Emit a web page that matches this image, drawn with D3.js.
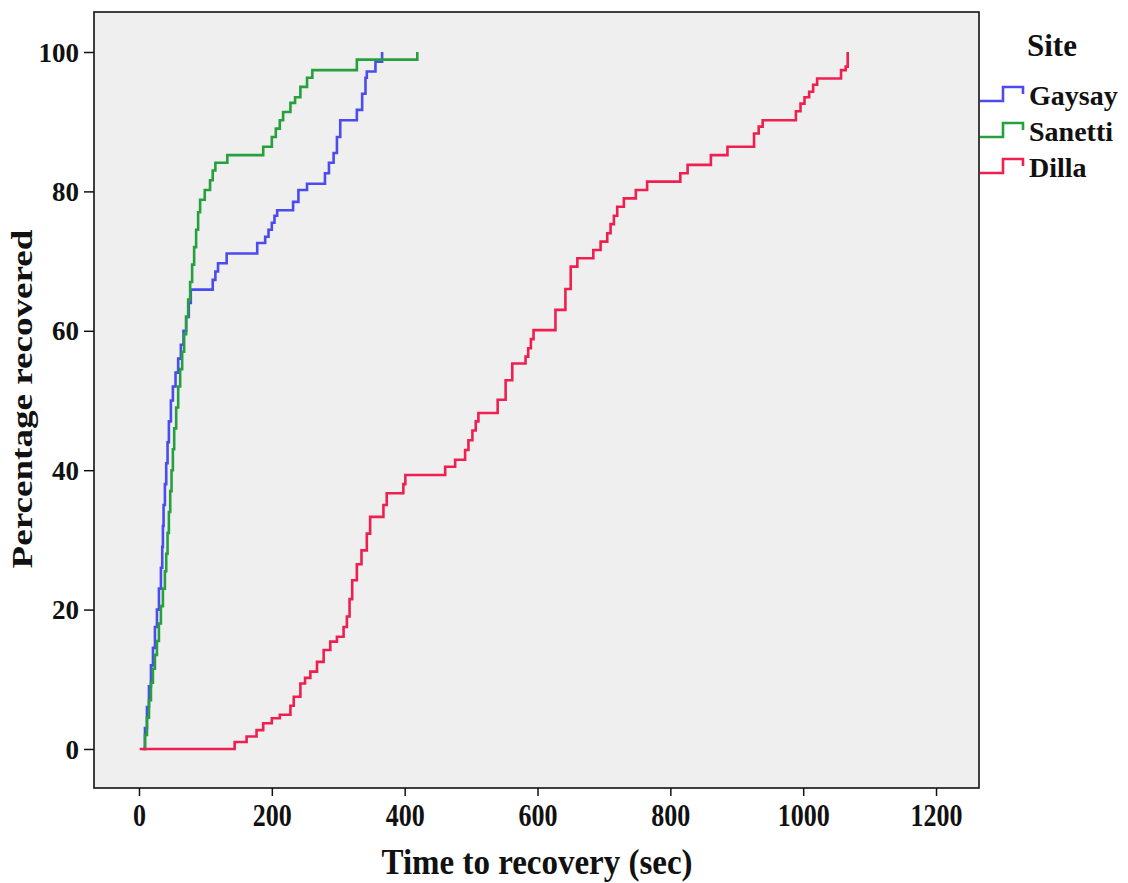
<!DOCTYPE html>
<html>
<head>
<meta charset="utf-8">
<script src="https://cdn.jsdelivr.net/npm/d3@7"></script>
<style>
  html, body { margin: 0; padding: 0; background: #ffffff; }
  svg { display: block; }
  text { font-family: "Liberation Serif", "Times New Roman", serif; font-weight: bold; fill: #111; }
</style>
</head>
<body>
<svg id="chart" width="1128" height="883"></svg>
<script>
// ---- data (time in sec, cumulative percentage recovered) ----
const sites = ["Gaysay", "Sanetti", "Dilla"];
const siteColors = ["#4b4bf0", "#25a03c", "#ef1f4f"];
const xTicks = [0, 200, 400, 600, 800, 1000, 1200];
const yTicks = [0, 20, 40, 60, 80, 100];

const gaysay = [
  [6,0],[9,3],[12,6],[15,9],[18,12],[21,14.5],[24,17.5],[27,20],[30,23],[33,26],
  [35,29],[36,32],[37,35],[39,38],[41,41],[43,44],[45,47],[48,50],[51,52],[55,54],
  [59,56],[63,58],[67,60],[71,62],[75,64],[78,65.9],[111,67.3],[115,68.5],[119,69.7],
  [132,71.1],[178,72.6],[190,73.5],[195,74.5],[200,75.5],[204,76.5],[208,77.3],
  [232,78.5],[240,80.2],[253,81.1],[280,82.6],[286,84.1],[293,85.5],[298,87.8],
  [303,90.2],[328,91.7],[336,94],[341,96.3],[343,97.2],[356,98.6],[366,100]
];
const sanetti = [
  [6,0],[9,2],[12,4.5],[15,7],[18,9.5],[21,11.5],[24,13.5],[27,15.5],[30,18],[33,20.5],
  [36,23],[39,25.5],[41,28],[43,31],[45,34],[47,37],[49,40],[51,43],[53,46],[56,49],
  [59,52],[62,54.5],[65,57],[68,59.5],[71,62],[74,64.5],[77,67],[80,69.5],[83,72],
  [86,74.5],[89,77],[92,78.8],[99,80.2],[107,81.6],[111,83],[115,84.1],[133,85.2],
  [187,86.4],[200,87.8],[206,89],[212,90.2],[217,91.4],[228,92.7],[235,93.5],
  [243,95],[253,96.3],[261,97.4],[328,98.9],[419,100]
];
const dilla = [
  [1,0],[144,1],[162,1.8],[177,2.7],[187,3.7],[200,4.4],[212,4.9],[228,6.2],[233,7.5],
  [243,9.4],[250,10.2],[258,11.1],[268,12.5],[278,14.2],[288,15.4],[298,16.1],
  [308,17.5],[313,19],[317,21.5],[321,24.2],[328,26.5],[335,28.5],[343,30.9],
  [348,33.3],[368,35],[373,36.7],[398,38],[401,39.3],[461,40.5],[476,41.5],[491,42.9],
  [496,44.3],[502,45.7],[507,47],[511,48.2],[540,50.1],[552,52.9],[562,55.3],
  [582,56.3],[586,57.5],[590,58.8],[594,60.1],[627,63],[642,66],[650,69.2],[660,70.4],
  [684,71.6],[695,72.8],[705,74],[710,75.3],[715,76.5],[720,77.8],[730,79],[748,80.2],
  [765,81.4],[815,82.6],[826,83.8],[861,85.2],[886,86.4],[926,88.3],[933,89.3],
  [939,90.2],[989,91.5],[996,92.6],[1002,93.5],[1009,94.3],[1015,95.3],[1021,96.2],
  [1057,97.4],[1064,97.9],[1067,100]
];
const seriesData = [gaysay, sanetti, dilla];

// ---- layout ----
const svg = d3.select("#chart");
const plot = { left: 94, right: 979, top: 12, bottom: 788 };

const x = d3.scaleLinear().domain([-67.75, 1264.7]).range([plot.left, plot.right]);
const y = d3.scaleLinear().domain([-5.6, 105.74]).range([plot.bottom, plot.top]);

svg.append("rect").attr("width", 1128).attr("height", 883).attr("fill", "#ffffff");

// panel
svg.append("rect")
  .attr("x", plot.left).attr("y", plot.top)
  .attr("width", plot.right - plot.left).attr("height", plot.bottom - plot.top)
  .attr("fill", "#efefef");

// axes
const xAxis = svg.append("g")
  .attr("transform", `translate(0,${plot.bottom})`)
  .call(d3.axisBottom(x).tickValues(xTicks).tickSize(8).tickFormat(d3.format("d")));
xAxis.select(".domain").remove();
xAxis.selectAll(".tick line").attr("stroke", "#111").attr("stroke-width", 1.5);
xAxis.selectAll(".tick text")
  .attr("y", 0).attr("dy", 0)
  .attr("transform", "translate(0,38) scale(1,1.25)")
  .style("font-size", "26px")
  .attr("font-family", null);

const yAxis = svg.append("g")
  .attr("transform", `translate(${plot.left},0)`)
  .call(d3.axisLeft(y).tickValues(yTicks).tickSize(10).tickFormat(d3.format("d")));
yAxis.select(".domain").remove();
yAxis.selectAll(".tick line").attr("stroke", "#111").attr("stroke-width", 1.5);
yAxis.selectAll(".tick text")
  .attr("x", -15).attr("dy", "0.34em")
  .style("font-size", "27px")
  .attr("font-family", null);

// curves
const line = d3.line()
  .x(d => x(d[0]))
  .y(d => y(d[1]))
  .curve(d3.curveStepAfter);

svg.append("g").selectAll("path")
  .data(seriesData)
  .join("path")
  .attr("d", d => line(d))
  .attr("fill", "none")
  .attr("stroke", (d, i) => siteColors[i])
  .attr("stroke-width", 2.6)
  .attr("stroke-linejoin", "miter");

// frame
svg.append("rect")
  .attr("x", plot.left).attr("y", plot.top)
  .attr("width", plot.right - plot.left).attr("height", plot.bottom - plot.top)
  .attr("fill", "none").attr("stroke", "#111").attr("stroke-width", 1.6);

// axis titles
svg.append("text")
  .attr("transform", "translate(537,874) scale(1,1.1)")
  .attr("text-anchor", "middle")
  .style("font-size", "33px")
  .text("Time to recovery (sec)");

svg.append("text")
  .attr("transform", "translate(32,399) rotate(-90) scale(1.28,1)")
  .attr("text-anchor", "middle")
  .style("font-size", "29px")
  .text("Percentage recovered");

// legend
const legend = svg.append("g");
legend.append("text")
  .attr("x", 1027).attr("y", 56)
  .style("font-size", "31px")
  .text("Site");

const baselines = [105, 141, 177];
const items = legend.selectAll("g.item")
  .data(sites)
  .join("g")
  .attr("class", "item")
  .attr("transform", (d, i) => `translate(0,${baselines[i]})`);

items.append("path")
  .attr("d", "M980,-4 H1003 V-18 H1023 V-11")
  .attr("fill", "none")
  .attr("stroke", (d, i) => siteColors[i])
  .attr("stroke-width", 2.6);

items.append("text")
  .attr("x", 1029).attr("y", 0)
  .style("font-size", "28px")
  .text(d => d);
</script>
</body>
</html>
